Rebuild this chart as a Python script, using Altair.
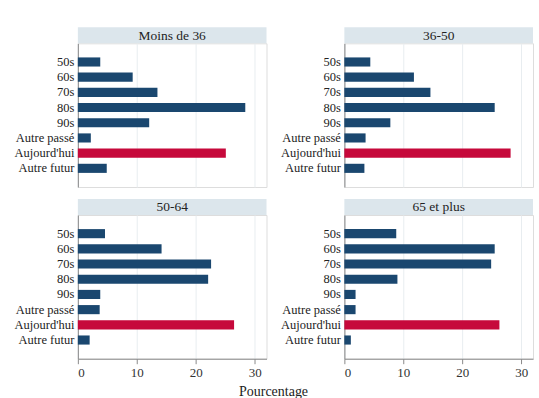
import altair as alt
import pandas as pd

categories = ["50s", "60s", "70s", "80s", "90s", "Autre passé", "Aujourd'hui", "Autre futur"]
groups = ["Moins de 36", "36-50", "50-64", "65 et plus"]
v_moins36 = [3.8, 9.3, 13.5, 28.4, 12.1, 2.2, 25.1, 4.9]
v_36_50 = [4.4, 11.8, 14.6, 25.5, 7.8, 3.6, 28.2, 3.4]
v_50_64 = [4.6, 14.2, 22.6, 22.1, 3.8, 3.7, 26.5, 2.0]
v_65plus = [8.8, 25.5, 24.9, 9.0, 1.9, 1.9, 26.3, 1.1]
x_ticks = [0, 10, 20, 30]
x_title = "Pourcentage"

FONT = "Liberation Serif, Times New Roman, serif"
W, H = 189, 144
HEADER_H = 16
NAVY = "#1a476f"
RED = "#c6093b"
HEADER_BG = "#dce6ec"


def panel(name, values, show_x):
    df = pd.DataFrame({
        "cat": categories,
        "val": values,
        "kind": ["auj" if c == "Aujourd'hui" else "autre" for c in categories],
    })
    x_axis = alt.Axis(
        values=x_ticks, grid=True, gridColor="#e8edf0", gridWidth=1,
        domain=show_x, domainColor="#8a8a8a", ticks=show_x, tickColor="#8a8a8a",
        tickSize=5, labels=show_x, labelFont=FONT, labelFontSize=13,
        labelColor="#333333", labelPadding=3, title=None,
    )
    y_axis = alt.Axis(
        title=None, ticks=False, domainColor="#8a8a8a", labelFont=FONT,
        labelFontSize=12.5, labelColor="#222222", labelPadding=4,
        grid=False,
    )
    bars = alt.Chart(df).mark_bar().encode(
        x=alt.X("val:Q", scale=alt.Scale(domain=[0, 32], nice=False), axis=x_axis),
        y=alt.Y("cat:N", sort=categories,
                scale=alt.Scale(paddingInner=0.4, paddingOuter=0.93), axis=y_axis),
        color=alt.Color("kind:N", scale=alt.Scale(domain=["autre", "auj"], range=[NAVY, RED]),
                        legend=None),
    )
    hdr_df = pd.DataFrame({"t": [name]})
    hdr = alt.Chart(hdr_df).mark_rect(color=HEADER_BG).encode(
        x=alt.value(0), x2=alt.value(W), y=alt.value(-HEADER_H), y2=alt.value(0)
    )
    txt = alt.Chart(hdr_df).mark_text(
        font=FONT, fontSize=13.5, color="#222222", baseline="middle", align="center"
    ).encode(x=alt.value(W / 2), y=alt.value(-HEADER_H / 2 + 0.5), text="t:N")
    return alt.layer(hdr, txt, bars).properties(width=W, height=H)


p1 = panel(groups[0], v_moins36, False)
p2 = panel(groups[1], v_36_50, False)
p3 = panel(groups[2], v_50_64, True)
p4 = panel(groups[3], v_65plus, True)

top = alt.hconcat(p1, p2, spacing=12)
bottom = alt.hconcat(p3, p4, spacing=12)
chart = alt.vconcat(top, bottom, spacing=10).properties(
    title=alt.TitleParams(x_title, orient="bottom", anchor="middle", font=FONT,
                          fontSize=14, fontWeight="normal", color="#222222", offset=5),
    padding={"left": 13, "top": 26, "right": 5, "bottom": 0},
).configure_view(stroke=None).configure(background="white")

chart.save("out.html", embed_options={"renderer": "svg", "actions": False})
